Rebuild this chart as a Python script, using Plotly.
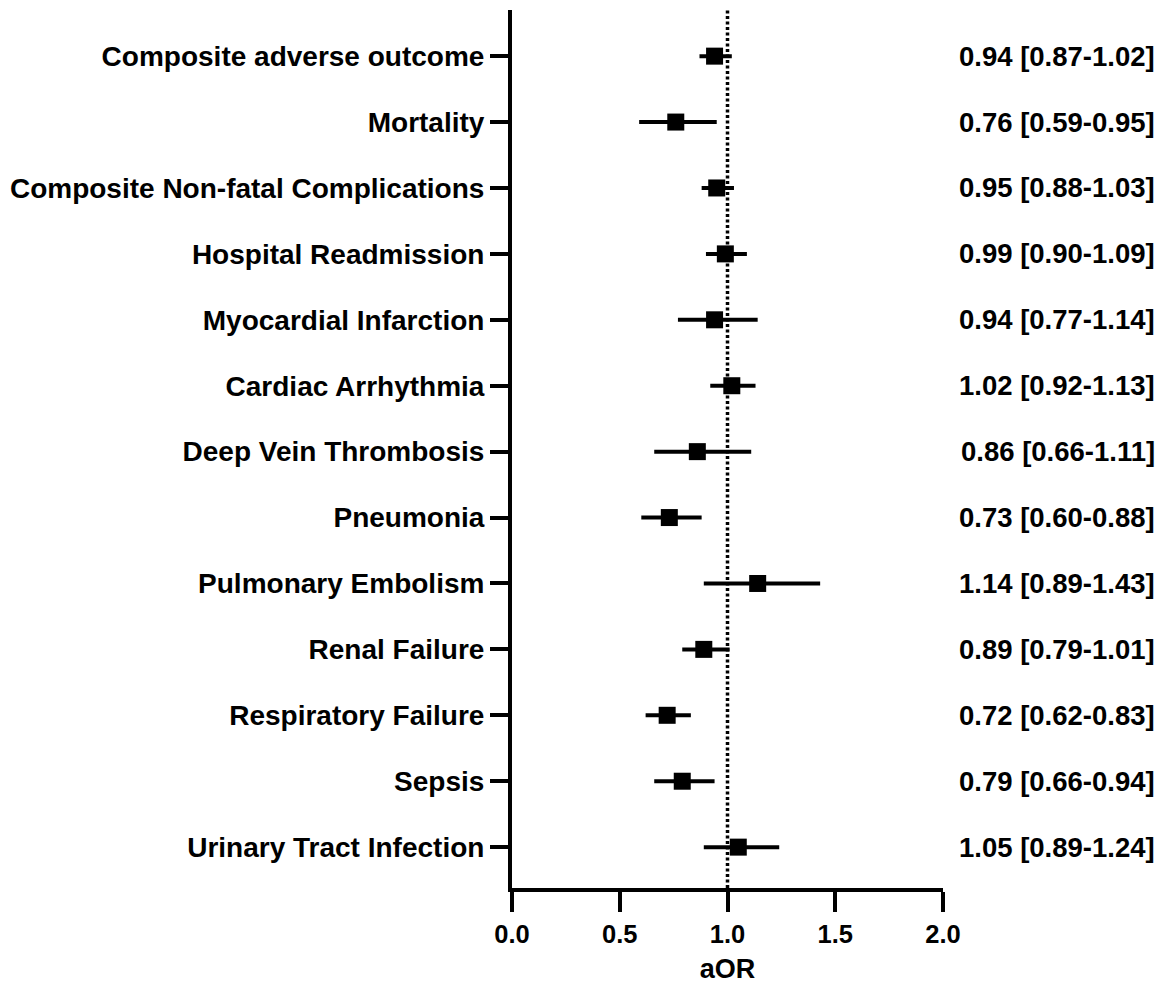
import plotly.graph_objects as go

# forest plot: adjusted odds ratios with 95% CI
outcomes = [
    'Composite adverse outcome',
    'Mortality',
    'Composite Non-fatal Complications',
    'Hospital Readmission',
    'Myocardial Infarction',
    'Cardiac Arrhythmia',
    'Deep Vein Thrombosis',
    'Pneumonia',
    'Pulmonary Embolism',
    'Renal Failure',
    'Respiratory Failure',
    'Sepsis',
    'Urinary Tract Infection',
]
aor = [0.94, 0.76, 0.95, 0.99, 0.94, 1.02, 0.86, 0.73, 1.14, 0.89, 0.72, 0.79, 1.05]
ci_low = [0.87, 0.59, 0.88, 0.90, 0.77, 0.92, 0.66, 0.60, 0.89, 0.79, 0.62, 0.66, 0.89]
ci_high = [1.02, 0.95, 1.03, 1.09, 1.14, 1.13, 1.11, 0.88, 1.43, 1.01, 0.83, 0.94, 1.24]
x_ticks = [0.0, 0.5, 1.0, 1.5, 2.0]
x_ticktext = ['0.0', '0.5', '1.0', '1.5', '2.0']

err_plus = [h - e for h, e in zip(ci_high, aor)]
err_minus = [e - l for e, l in zip(aor, ci_low)]

fig = go.Figure()
fig.add_trace(go.Scatter(
    x=aor, y=outcomes, mode='markers',
    marker=dict(symbol='square', size=17, color='black'),
    error_x=dict(type='data', symmetric=False, array=err_plus, arrayminus=err_minus,
                 thickness=4, width=0, color='black'),
    showlegend=False))

# reference line at OR = 1
fig.add_shape(type='line', x0=1, x1=1, xref='x', y0=0, y1=1.0025, yref='paper',
              line=dict(color='black', width=3.5, dash='3px,2.5px'), layer='below')

# text column on the right
for o, e, l, h in zip(outcomes, aor, ci_low, ci_high):
    fig.add_annotation(x=1.4965, xref='paper', y=o, yref='y', xanchor='right',
                       text=f'{e:.2f} [{l:.2f}-{h:.2f}]', showarrow=False,
                       font=dict(size=27.5))

# page body has an 8px margin, so the figure is 8px smaller
fig.update_layout(
    width=1160, height=976,
    margin=dict(l=502, r=225, t=2, b=95),
    plot_bgcolor='white', paper_bgcolor='white',
    font=dict(family='Liberation Sans, Arial, sans-serif', size=27, color='black', weight='bold'),
)
fig.update_xaxes(range=[0, 2], tickvals=x_ticks, ticktext=x_ticktext,
                 showgrid=False, zeroline=False,
                 showline=True, linewidth=4, linecolor='black',
                 ticks='outside', ticklen=20, tickwidth=4, tickcolor='black',
                 tickfont=dict(size=25.5),
                 title=dict(text='aOR', font=dict(size=27), standoff=16))
fig.update_yaxes(categoryorder='array', categoryarray=outcomes,
                 range=[12.62, -0.70], showgrid=False, zeroline=False,
                 showline=True, linewidth=4, linecolor='black',
                 ticks='outside', ticklen=18, tickwidth=4, tickcolor='black',
                 tickfont=dict(size=28))

fig.write_html('out.html')
